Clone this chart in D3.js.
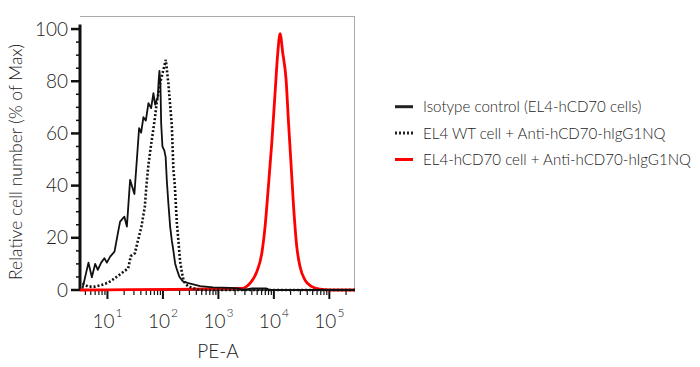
<!DOCTYPE html>
<html><head><meta charset="utf-8">
<script src="https://cdn.jsdelivr.net/npm/d3@7"></script>
<style>
body{margin:0;background:#fff;}
text{font-family:Lato,"Open Sans",sans-serif;font-weight:300;fill:#222;}
</style></head>
<body><svg id="c" width="700" height="367"></svg>
<script>
// PE-A values and % of Max
const isoX = [3.55,4.55,5.24,6.0,6.7,7.7,8.8,9.75,11.2,13.4,15.4,16.9,20.2,22.4,25.6,30.6,37.2,40.5,44.5,49.2,54.8,61.3,67.4,72.3,80.9,83.6,86.5,90.2,92.9,98,106.4,111.9,117.5,125.6,134.9,144.6,154.5,165.9,177.8,198,219,234,288,468,804,1626,2265,2790,4050,7230,8550,290000];
const isoY = [0.6,10.5,4.9,10,7.7,10.5,12.2,10.5,12.8,14.7,21.7,26.2,28.1,24.3,42.2,36.8,62,60.3,66.2,64.9,71.6,69.7,75.4,71,74,80,84,79,64,55,53.3,51,42,33,24.3,19,15,10.2,8,5.1,3.8,3.2,2.6,1.5,1.0,0.8,0.6,0,0.6,0.6,0,0];
const wtX = [3.55,4.49,5.93,7.80,10.3,13.6,17.9,23.6,26.4,31.2,35.7,41.0,47.2,50.4,54.8,58.8,72.3,77.6,89.1,102,112.8,125.6,144.6,154.5,161,165.9,177.8,190,204,219,234,251,288,408,468,290000];
const wtY = [2.6,1.3,1.3,1.9,2.8,4.5,6.4,8.3,13,14.1,19.2,24.3,32,40,48,53,66.5,72,79.3,84.4,88.2,79,63,46,42,38,26,19,11,7,4,2.5,1.3,0.3,0,0];
const cdX = [3.2,2640,3730,4920,6050,6940,7960,9160,10500,11750,12940,14460,16600,18250,20180,22450,25870,29650,36480,48190,67920,100000,290000];
const cdY = [0,0.6,2.6,7,14,24.3,39.6,56.3,75.4,90.8,98.2,90.8,80.6,65.2,49.9,33.3,16.6,8.9,3.8,1.3,0.3,0,0];
const yTicks = [0,20,40,60,80,100];
const xMajor = [10,100,1000,10000,100000];
const seriesNames = ["Isotype control (EL4-hCD70 cells)","EL4 WT cell + Anti-hCD70-hIgG1NQ","EL4-hCD70 cell + Anti-hCD70-hIgG1NQ"];

const svg = d3.select("#c");
const L=80,R=355,T=16,B=290;
const x = d3.scaleLog().domain([3.2,290000]).range([L,R]);
const y = d3.scaleLinear().domain([0,105]).range([B,T]);

// frame
svg.append("line").attr("x1",L).attr("x2",R).attr("y1",T+0.5).attr("y2",T+0.5).attr("stroke","#aaa").attr("stroke-width",1);
svg.append("line").attr("x1",R-0.5).attr("x2",R-0.5).attr("y1",T).attr("y2",B).attr("stroke","#aaa").attr("stroke-width",1);

// x ticks
const xt = x.ticks();
svg.selectAll(".xt").data(xt).enter().append("line")
  .attr("x1",d=>x(d)).attr("x2",d=>x(d))
  .attr("y1",B).attr("y2",d=>xMajor.includes(d)?B+9:B+5)
  .attr("stroke","#111").attr("stroke-width",d=>xMajor.includes(d)?2:1.2);
svg.append("line").attr("x1",L).attr("x2",R).attr("y1",B).attr("y2",B).attr("stroke","#111").attr("stroke-width",1.5);
const xl = svg.selectAll(".xl").data(xMajor).enter().append("text")
  .attr("x",d=>x(d)).attr("y",328).attr("text-anchor","middle").attr("font-size",19);
xl.append("tspan").text("10");
xl.append("tspan").attr("dy",-11).attr("dx",1).attr("font-size",12).text(d=>Math.round(Math.log10(d)));

// y axis
svg.selectAll(".ym").data(d3.range(0,101,5)).enter().append("line")
  .attr("x1",L).attr("x2",d=>yTicks.includes(d)?L-9:L-4)
  .attr("y1",d=>y(d)).attr("y2",d=>y(d)).attr("stroke","#111").attr("stroke-width",d=>yTicks.includes(d)?2.5:1.5);
svg.append("line").attr("x1",L).attr("x2",L).attr("y1",B+1).attr("y2",y(101.7)).attr("stroke","#111").attr("stroke-width",3);
svg.selectAll(".yl").data(yTicks).enter().append("text")
  .attr("x",L-12).attr("y",d=>y(d)+6.5).attr("text-anchor","end").attr("font-size",19).text(d=>d);

// titles
svg.append("text").attr("x",218).attr("y",358).attr("text-anchor","middle").attr("font-size",19).text("PE-A");
svg.append("text").attr("transform","translate(22,162) rotate(-90)").attr("text-anchor","middle").attr("font-size",17.5).text("Relative cell number (% of Max)");

// curves
const line = d3.line().x(d=>x(d[0])).y(d=>y(d[1]));
svg.append("path").datum(d3.zip(cdX,cdY)).attr("d",line.curve(d3.curveMonotoneX)).attr("fill","none").attr("stroke","#ff0000").attr("stroke-width",2.8);
svg.append("path").datum(d3.zip(isoX,isoY)).attr("d",line.curve(d3.curveLinear)).attr("fill","none").attr("stroke","#111").attr("stroke-width",1.8).attr("stroke-linejoin","round");
svg.append("path").datum(d3.zip(wtX,wtY)).attr("d",line.curve(d3.curveLinear)).attr("fill","none").attr("stroke","#111").attr("stroke-width",2.6).attr("stroke-dasharray","2,2");

// legend
const lg = svg.append("g");
const styles=[{c:"#222",d:null,w:3},{c:"#222",d:"2,2",w:3},{c:"#ff0000",d:null,w:3}];
seriesNames.forEach((n,i)=>{
  const yy = 106.7 + i*26.4;
  lg.append("line").attr("x1",395).attr("x2",413).attr("y1",yy).attr("y2",yy).attr("stroke",styles[i].c).attr("stroke-width",styles[i].w).attr("stroke-dasharray",styles[i].d);
  lg.append("text").attr("x",423).attr("y",yy+5.5).attr("font-size",15.1).text(n);
});
</script></body></html>
